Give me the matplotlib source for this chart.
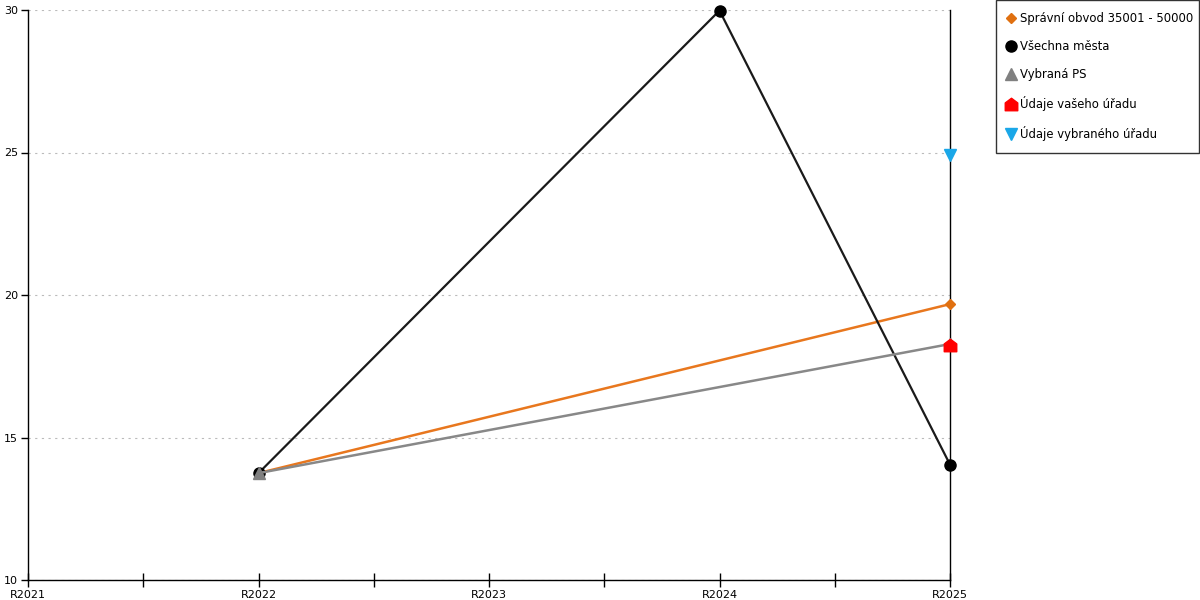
import numpy as np
import matplotlib
matplotlib.use("Agg")
import matplotlib.pyplot as plt
from matplotlib.path import Path

years = ["R2021", "R2022", "R2023", "R2024", "R2025"]

# series values (x index into years, y value)
obvod_x = [1, 4]
obvod_y = [13.75, 19.68]
mesta_x = [1, 3, 4]
mesta_y = [13.75, 29.98, 14.05]
ps_x = [1, 4]
ps_y = [13.75, 18.28]
vas_x = [4]
vas_y = [18.25]
vybrany_x = [4]
vybrany_y = [24.9]

house = Path([(-1, -1), (1, -1), (1, 0.25), (0, 1), (-1, 0.25), (-1, -1)],
             [Path.MOVETO, Path.LINETO, Path.LINETO, Path.LINETO, Path.LINETO, Path.CLOSEPOLY])

plt.rcParams["font.family"] = ["DejaVu Sans"]
fig = plt.figure(figsize=(12, 6), dpi=100)
ax = fig.add_axes([28 / 1200, 20 / 600, 922 / 1200, 570 / 600])

ax.plot(obvod_x, obvod_y, color="#E8771E", lw=1.8, marker="D", ms=5, mec="#E07010",
        mfc="#E07010", label="Správní obvod 35001 - 50000", zorder=3, clip_on=False)
ax.plot(mesta_x, mesta_y, color="#1a1a1a", lw=1.6, marker="o", ms=8, mfc="black",
        mec="black", label="Všechna města", zorder=4, clip_on=False)
ax.plot(ps_x, ps_y, color="#888888", lw=1.8, marker="^", ms=8, mfc="#808080",
        mec="#808080", label="Vybraná PS", zorder=5, clip_on=False)
ax.plot(vas_x, vas_y, ls="none", marker=house, ms=9, mfc="#FF0000", mec="#FF0000",
        label="Údaje vašeho úřadu", zorder=6, clip_on=False)
ax.plot(vybrany_x, vybrany_y, ls="none", marker="v", ms=8, mfc="#1AA7E8", mec="#1AA7E8",
        label="Údaje vybraného úřadu", zorder=6, clip_on=False)

ax.set_xlim(0, 4)
ax.set_ylim(10, 30)
ax.set_xticks(range(len(years)))
ax.set_xticklabels(years, fontsize=8)
ax.set_xticks(np.arange(0.5, 4, 1), minor=True)
ax.set_yticks([10, 15, 20, 25, 30])
ax.tick_params(axis="x", which="both", direction="inout", length=10, width=1, pad=2)
ax.tick_params(axis="y", direction="out", length=5, width=1, labelsize=8, pad=2)
ax.yaxis.grid(True, ls=(0, (2, 4)), color="#bbbbbb", lw=0.8)
ax.set_axisbelow(True)

ax.spines["top"].set_visible(False)
for s in ["left", "bottom", "right"]:
    ax.spines[s].set_color("black")
    ax.spines[s].set_linewidth(1)

leg = fig.legend(loc="upper left", bbox_to_anchor=(996 / 1200, 0, 203 / 1200, 1.0),
                 mode="expand", frameon=True, fancybox=False, edgecolor="black",
                 fontsize=8.4, labelspacing=1.3, handlelength=0.5, handletextpad=0.6,
                 borderpad=1.0, borderaxespad=0)
leg.get_frame().set_linewidth(1)
for h in leg.legend_handles:
    h.set_linestyle("none")

fig.savefig("out.png", dpi=100)
